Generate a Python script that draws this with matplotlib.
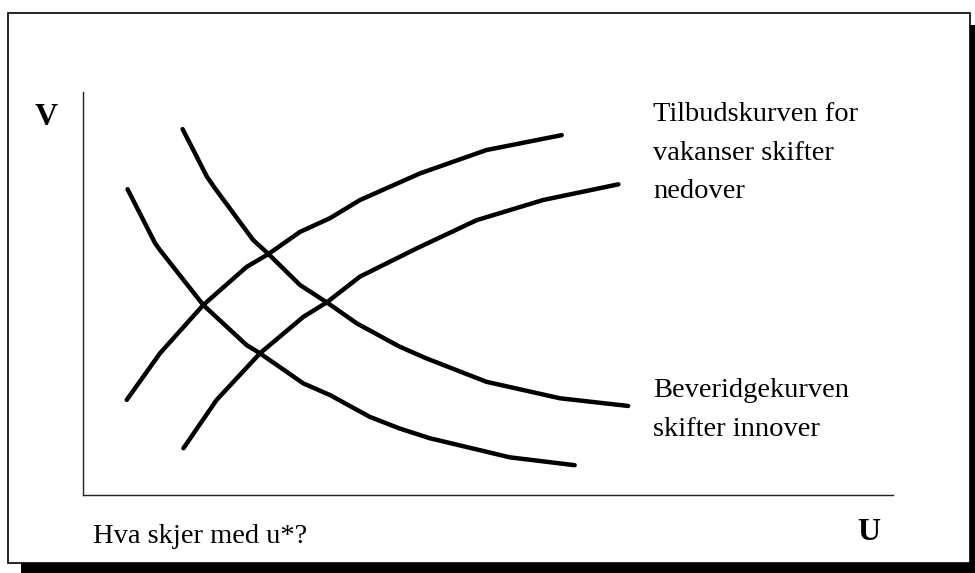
import matplotlib.pyplot as plt
from matplotlib.patches import Rectangle

# curve points, U on x and V on y (0-100 scale)
beveridge_in_u = [5.5, 8.9, 9.5, 14.85, 20.2, 21.85, 27.2, 30.5, 35.4, 39.1, 42.8, 52.7, 60.7]
beveridge_in_v = [75.9, 62.5, 60.8, 47.15, 37.2, 35.16, 27.7, 24.8, 19.4, 16.5, 14.1, 9.35, 7.4]

beveridge_out_u = [12.3, 15.3, 16.3, 21.0, 22.9, 26.8, 30.1, 33.8, 39.1, 42.4, 49.8, 58.9, 67.3]
beveridge_out_v = [90.8, 79.0, 76.1, 63.3, 59.8, 52.1, 47.8, 42.6, 36.8, 33.9, 28.1, 24.0, 22.1]

tilbud_hi_u = [5.4, 9.5, 14.85, 20.2, 22.9, 26.8, 30.5, 34.2, 41.6, 49.8, 59.1]
tilbud_hi_v = [23.6, 35.16, 47.15, 56.6, 59.8, 65.3, 68.7, 73.2, 79.8, 85.6, 89.3]

tilbud_lo_u = [12.4, 16.5, 21.85, 27.2, 30.1, 34.2, 41.2, 48.6, 56.8, 66.1]
tilbud_lo_v = [11.6, 23.6, 35.16, 44.2, 47.8, 54.2, 61.2, 68.2, 73.2, 77.1]

tilbud_text = ["Tilbudskurven for", "vakanser skifter", "nedover"]
beveridge_text = ["Beveridgekurven", "skifter innover"]

plt.rcParams['font.family'] = ['Liberation Serif', 'DejaVu Serif']

fig = plt.figure(figsize=(9.75, 5.73), dpi=100)

# drop shadow + framed box
fig.patches.append(Rectangle((0.0215, -0.02), 1.0, 0.9764, transform=fig.transFigure,
                             facecolor='black', edgecolor='none', zorder=-2))
fig.patches.append(Rectangle((0.0082, 0.0175), 0.9867, 0.9599, transform=fig.transFigure,
                             facecolor='white', edgecolor='black', linewidth=1.2, zorder=-1))

ax = fig.add_axes([0.0851, 0.1361, 0.8308, 0.7033])
ax.set_xlim(0, 100)
ax.set_ylim(0, 100)
ax.patch.set_alpha(0)
for s in ['top', 'right']:
    ax.spines[s].set_visible(False)
for s in ['left', 'bottom']:
    ax.spines[s].set_linewidth(1.0)
    ax.spines[s].set_color('#222222')
ax.set_xticks([])
ax.set_yticks([])

kw = dict(color='black', linewidth=3.2, solid_capstyle='round', solid_joinstyle='round')
ax.plot(beveridge_in_u, beveridge_in_v, **kw)
ax.plot(beveridge_out_u, beveridge_out_v, **kw)
ax.plot(tilbud_hi_u, tilbud_hi_v, **kw)
ax.plot(tilbud_lo_u, tilbud_lo_v, **kw)

fs = 20.5
for line, y in zip(tilbud_text, [92.7, 83.1, 73.6]):
    ax.text(70.4, y, line, fontsize=fs, va='baseline', ha='left')
for line, y in zip(beveridge_text, [24.4, 14.6]):
    ax.text(70.4, y, line, fontsize=fs, va='baseline', ha='left')

ax.text(1.2, -11.8, "Hva skjer med u*?", fontsize=fs, va='baseline', ha='left', clip_on=False)
ax.text(97.0, -11.2, "U", fontsize=23, fontweight='bold', va='baseline', ha='center', clip_on=False)
ax.text(-4.6, 91.8, "V", fontsize=23, fontweight='bold', va='baseline', ha='center', clip_on=False)

fig.savefig('out.png', dpi=100)
